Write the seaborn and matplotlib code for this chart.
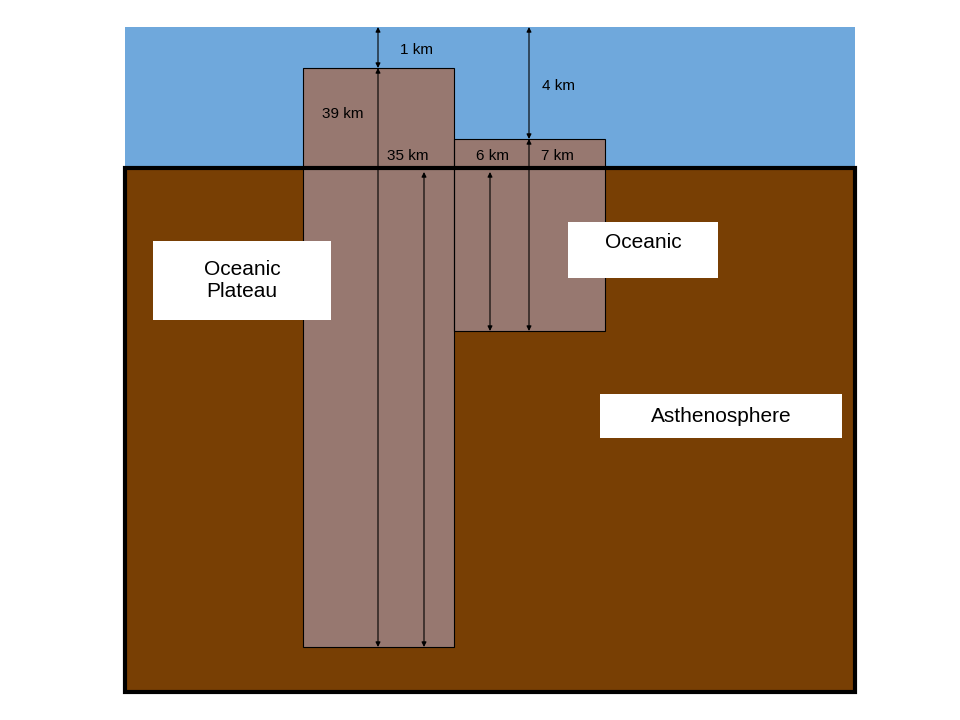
import matplotlib
matplotlib.use("Agg")
import matplotlib.pyplot as plt
import seaborn as sns
from matplotlib.patches import Rectangle

sns.set_theme(style="white")
plt.rcParams["font.family"] = ["Liberation Sans", "DejaVu Sans"]

# layers: name, left, top, right, bottom (pixel frame of the diagram)
layer_names = ["ocean", "asthenosphere", "plateau", "oceanic crust"]
layer_boxes = [(125, 27, 855, 168), (125, 168, 855, 692), (303, 68, 454, 647), (454, 139, 605, 331)]
layer_colors = ["#6fa8dc", "#783f04", "#977870", "#977870"]

# thickness arrows: x, top, bottom, label, label x, label y
arrow_x = [378, 529, 378, 424, 490, 529]
arrow_top = [27, 27, 68, 172, 172, 139]
arrow_bottom = [68, 139, 647, 647, 331, 331]
arrow_labels = ["1 km", "4 km", "39 km", "35 km", "6 km", "7 km"]
label_x = [416, 558, 343, 408, 492, 557]
label_y = [50, 86, 114, 156, 156, 156]

# white name boxes
box_text = ["Oceanic\nPlateau", "Oceanic", "Asthenosphere"]
box_rects = [(153, 241, 331, 320), (568, 222, 718, 278), (600, 394, 842, 438)]

fig = plt.figure(figsize=(9.6, 7.2), dpi=100)
ax = fig.add_axes([0, 0, 1, 1])
ax.set_xlim(0, 960)
ax.set_ylim(720, 0)
ax.axis("off")

for (l, t, r, b), c in zip(layer_boxes, layer_colors):
    ax.add_patch(Rectangle((l, t), r - l, b - t, facecolor=c, edgecolor="none"))
for (l, t, r, b) in [layer_boxes[2], layer_boxes[3]]:
    ax.add_patch(Rectangle((l, t), r - l, b - t, facecolor="none", edgecolor="black", lw=0.8))
l, t, r, b = layer_boxes[1]
ax.add_patch(Rectangle((l, t), r - l, b - t, facecolor="none", edgecolor="black", lw=3, zorder=5))

for x, t, b in zip(arrow_x, arrow_top, arrow_bottom):
    ax.annotate("", xy=(x, t), xytext=(x, b),
                arrowprops=dict(arrowstyle="<|-|>", color="black", lw=0.8,
                                mutation_scale=7, shrinkA=0, shrinkB=0), zorder=6)
for s, x, y in zip(arrow_labels, label_x, label_y):
    ax.text(x, y, s, fontsize=11, ha="center", va="center", color="black", zorder=7)

for s, (l, t, r, b) in zip(box_text, box_rects):
    ax.add_patch(Rectangle((l, t), r - l, b - t, facecolor="white", edgecolor="none", zorder=6))
    ax.text((l + r) / 2, (t + b) / 2 - (8 if s == "Oceanic" else 0), s, fontsize=15,
            ha="center", va="center", color="black", zorder=7, linespacing=1.2)

fig.savefig("out.png", dpi=100)
